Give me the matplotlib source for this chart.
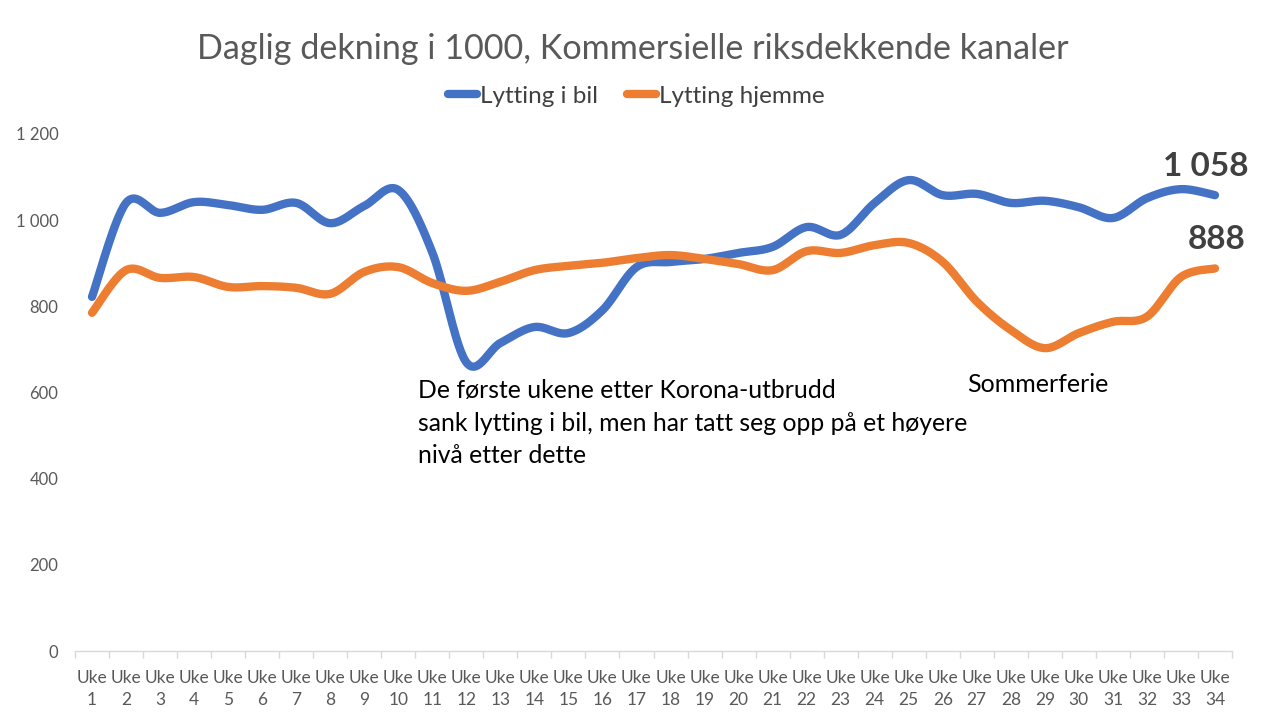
import numpy as np
import matplotlib
matplotlib.use("Agg")
import matplotlib.pyplot as plt
from matplotlib.ticker import FuncFormatter

weeks = list(range(1, 35))
week_labels = [f"Uke\n{w}" for w in weeks]

lytting_i_bil = [822, 1040, 1017, 1042, 1035, 1024, 1040, 993, 1033, 1070,
                 925, 670, 715, 752, 738, 791, 891, 903, 910, 924,
                 938, 984, 966, 1040, 1093, 1058, 1061, 1040, 1045, 1030,
                 1005, 1051, 1072, 1058]
lytting_hjemme = [785, 884, 866, 868, 845, 847, 843, 829, 880, 891,
                  854, 836, 857, 884, 894, 901, 912, 919, 910, 898,
                  884, 928, 924, 942, 947, 903, 811, 745, 703, 738,
                  764, 776, 868, 888]

series_names = ["Lytting i bil", "Lytting hjemme"]
colors = ["#4472C4", "#ED7D31"]
title = "Daglig dekning i 1000, Kommersielle riksdekkende kanaler"
note_corona = "De første ukene etter Korona-utbrudd\nsank lytting i bil, men har tatt seg opp på et høyere\nnivå etter dette"
note_summer = "Sommerferie"

plt.rcParams['font.family'] = ['Lato', 'DejaVu Sans']


def smooth(x, y, n=30):
    """Excel-style smoothed line (Catmull-Rom Bezier through points)."""
    x = np.asarray(x, float)
    y = np.asarray(y, float)
    pts = np.column_stack([x, y])
    out = []
    m = len(pts)
    t = np.linspace(0, 1, n)
    for i in range(m - 1):
        p0 = pts[i - 1] if i > 0 else pts[i]
        p1 = pts[i]
        p2 = pts[i + 1]
        p3 = pts[i + 2] if i + 2 < m else pts[i + 1]
        c1 = p1 + (p2 - p0) / 6.0
        c2 = p2 - (p3 - p1) / 6.0
        seg = (((1 - t) ** 3)[:, None] * p1 + (3 * (1 - t) ** 2 * t)[:, None] * c1
               + (3 * (1 - t) * t ** 2)[:, None] * c2 + (t ** 3)[:, None] * p2)
        if i > 0:
            seg = seg[1:]
        out.append(seg)
    out = np.vstack(out)
    return out[:, 0], out[:, 1]


fig = plt.figure(figsize=(12.8, 7.2), dpi=100, facecolor="white")
ax = fig.add_axes([0.0586, 0.0958, 0.9039, 0.7181])
ax.set_facecolor("white")

for vals, name, col in zip([lytting_i_bil, lytting_hjemme], series_names, colors):
    sx, sy = smooth(weeks, vals)
    ax.plot(sx, sy, color=col, lw=6, solid_capstyle="round", label=name)

ax.set_xlim(0.5, 34.5)
ax.set_ylim(0, 1200)
ax.set_yticks(range(0, 1201, 200))
ax.yaxis.set_major_formatter(FuncFormatter(lambda v, p: f"{int(v):,}".replace(",", " ")))
ax.set_xticks(weeks)
ax.set_xticklabels(week_labels)
ax.set_xticks(np.arange(0.5, 35, 1), minor=True)
ax.tick_params(axis="x", which="major", length=0, pad=14, labelsize=12.5, labelcolor="#595959")
ax.tick_params(axis="x", which="minor", length=5, color="#D9D9D9", width=1)
ax.tick_params(axis="y", length=0, pad=12, labelsize=12, labelcolor="#595959")
for lab in ax.get_xticklabels():
    lab.set_linespacing(1.4)

for s in ["top", "right", "left"]:
    ax.spines[s].set_visible(False)
ax.spines["bottom"].set_color("#D9D9D9")
ax.spines["bottom"].set_linewidth(1)

fig.text(0.494, 0.932, title, ha="center", va="center", fontsize=24.6, color="#595959")
leg = fig.legend(loc="center", bbox_to_anchor=(0.497, 0.866), ncol=2, frameon=False,
                 fontsize=17.5, handlelength=1.2, handletextpad=0.1, columnspacing=1.2,
                 labelcolor="#404040")
for h in leg.get_lines():
    h.set_linewidth(6)

ax.annotate(f"{lytting_i_bil[-1]:,}".replace(",", " "), xy=(weeks[-1], lytting_i_bil[-1]),
            xytext=(-6.5, 21), textcoords="offset points", ha="center", va="center",
            fontsize=24, fontweight="bold", color="#404040")
ax.annotate(f"{lytting_hjemme[-1]}", xy=(weeks[-1], lytting_hjemme[-1]),
            xytext=(1.5, 21), textcoords="offset points", ha="center", va="center",
            fontsize=24, fontweight="bold", color="#404040")

ax.text(10.58, 631, note_corona, ha="left", va="top", fontsize=17.8, color="black",
        linespacing=1.5)
ax.text(26.71, 645, note_summer, ha="left", va="top", fontsize=18, color="black")

fig.savefig("out.png", dpi=100, facecolor="white")
